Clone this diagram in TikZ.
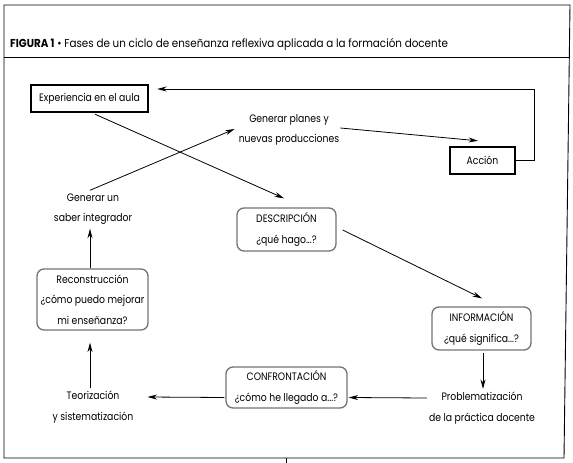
\documentclass[tikz,border=0pt]{standalone}
\usepackage{fontspec}
\setmainfont{Poppins}[FakeStretch=0.86]
\newfontfamily\titlefont{Poppins}[FakeStretch=0.9]
\usetikzlibrary{arrows.meta}
\begin{document}
\begin{tikzpicture}[x=1pt,y=-1pt,
  every node/.style={font=\fontsize{10.8}{20.5}\selectfont},
  arr/.style={-{Stealth[length=9.5pt,width=5pt]}, line width=0.8pt},
  frame/.style={line width=0.9pt},
  sqbox/.style={draw, line width=2.4pt, inner sep=0pt},
  rbox/.style={draw=black!55, rounded corners=7pt, line width=1.3pt, inner sep=0pt, align=center},
  txt/.style={align=center, inner sep=0pt}
]
\useasboundingbox (0,0) rectangle (573,463);
% frame
\draw[frame] (4,5) -- (570,5) -- (564,458) -- (4,458) -- cycle;
\draw[frame] (4,57) -- (569.5,57);
\draw[frame] (286,458) -- (286,463);
\node[anchor=base west, inner sep=0pt, font=\titlefont\fontsize{11.5}{13}\selectfont] (title) at (10,47)
  {\textbf{FIGURA 1} • Fases de un ciclo de enseñanza reflexiva aplicada a la formación docente};

% nodes
\node[sqbox, minimum width=117pt, minimum height=27pt] (exp) at (89.5,98.5) {Experiencia en el aula};
\node[txt] (plan) at (289,130) {Generar planes y\\nuevas producciones};
\node[sqbox, minimum width=65pt, minimum height=27pt] (acc) at (482.5,160.5) {Acción};
\node[rbox, minimum width=99pt, minimum height=43pt] (desc) at (286.5,229.5) {DESCRIPCIÓN\\¿qué hago...?};
\node[rbox, minimum width=99pt, minimum height=43pt] (info) at (481.5,328.5) {INFORMACIÓN\\¿qué significa...?};
\node[txt] (prob) at (482,408) {Problematización\\de la práctica docente};
\node[rbox, minimum width=121pt, minimum height=41pt] (conf) at (286.5,387.5) {CONFRONTACIÓN\\¿cómo he llegado a...?};
\node[txt] (teor) at (93,407) {Teorización\\y sistematización};
\node[rbox, minimum width=111pt, minimum height=61pt] (recon) at (92.5,299.5) {Reconstrucción\\¿cómo puedo mejorar\\mi enseñanza?};
\node[txt] (saber) at (93,209) {Generar un\\saber integrador};

% connectors
\draw[arr] (acc.east) -- ++(18,0) |- ([xshift=8pt,yshift=9.5pt]exp.east);
\draw[arr] ([xshift=1pt,yshift=2pt]plan.east) -- ([xshift=-4.5pt,yshift=5pt]acc.north);
\draw[arr] ([xshift=5.5pt,yshift=-1pt]exp.south) -- ([xshift=-2.5pt,yshift=9pt]desc.north);
\draw[arr] ([xshift=-3pt,yshift=3pt]saber.north) -- ([xshift=-4pt,yshift=1pt]plan.west);
\draw[arr] ([xshift=6pt,yshift=-0.5pt]desc.east) -- ([xshift=0.5pt,yshift=8pt]info.north);
\draw[arr] ([xshift=1.5pt,yshift=-2pt]info.south) -- ([xshift=1pt,yshift=3pt]prob.north);
\draw[arr] ([xshift=-2pt,yshift=10pt]prob.west) -- ([xshift=1pt,yshift=-10pt]conf.east);
\draw[arr] ([xshift=-1pt,yshift=-10pt]conf.west) -- ([xshift=14pt,yshift=10pt]teor.east);
\draw[arr] ([xshift=-3pt,yshift=3pt]teor.north) -- ([xshift=-2.5pt,yshift=-12pt]recon.south);
\draw[arr] ([xshift=-2.5pt]recon.north) -- ([xshift=-3pt,yshift=-4pt]saber.south);
\end{tikzpicture}
\end{document}
